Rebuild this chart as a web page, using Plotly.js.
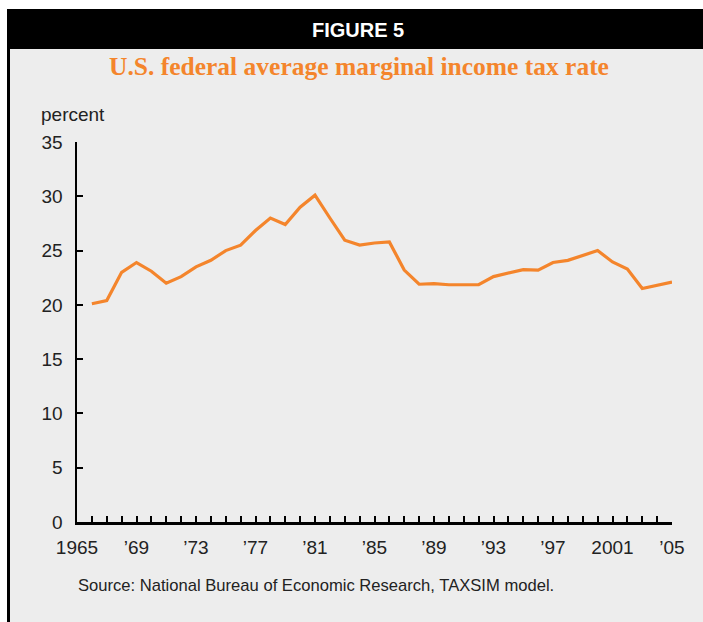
<!DOCTYPE html>
<html>
<head>
<meta charset="utf-8">
<script src="https://cdn.plot.ly/plotly-3.0.1.min.js"></script>
<style>html,body{margin:0;padding:0;background:#fff;}#chart{width:703px;height:622px;}</style>
</head>
<body>
<div id="chart"></div>
<script>
const years = [1966,1967,1968,1969,1970,1971,1972,1973,1974,1975,1976,1977,1978,1979,1980,1981,1982,1983,1984,1985,1986,1987,1988,1989,1990,1991,1992,1993,1994,1995,1996,1997,1998,1999,2000,2001,2002,2003,2004,2005];
const rates = [20.1,20.4,23.0,23.9,23.1,22.0,22.6,23.5,24.1,25.0,25.5,26.85,28.0,27.4,29.0,30.1,28.0,25.95,25.5,25.7,25.8,23.2,21.9,21.95,21.85,21.85,21.85,22.6,22.9,23.25,23.2,23.9,24.1,24.55,25.0,23.95,23.3,21.5,21.8,22.1];
const tickYears = [];
for (let y = 1965; y <= 2005; y++) tickYears.push(y);
const labelMap = {1965:'1965',1969:'\u201969',1973:'\u201973',1977:'\u201977',1981:'\u201981',1985:'\u201985',1989:'\u201989',1993:'\u201993',1997:'\u201997',2001:'2001',2005:'\u201905'};
const tickText = tickYears.map(y => labelMap[y] || '');
const yTicks = [0,5,10,15,20,25,30,35];

const W = 703, H = 622;
const L = 77, R = 672, T = 142, B = 522;
const px = x => (x - L) / (R - L);
const py = y => (B - y) / (B - T);

const orange = '#f4852c';
const font = 'Liberation Sans, Arial, sans-serif';

Plotly.newPlot('chart', [{
  x: years, y: rates, type: 'scatter', mode: 'lines',
  line: {color: orange, width: 3.2}, hoverinfo: 'skip'
}], {
  width: W, height: H,
  margin: {l: L, r: W - R, t: T, b: H - B, pad: 0},
  paper_bgcolor: '#ffffff',
  plot_bgcolor: 'rgba(0,0,0,0)',
  showlegend: false,
  xaxis: {
    range: [1965, 2005], tickmode: 'array', tickvals: tickYears, ticktext: tickText,
    showline: true, linecolor: '#000', linewidth: 2.5, ticks: 'inside', ticklen: 6, tickwidth: 2, tickcolor: '#000',
    showgrid: false, zeroline: false, fixedrange: true, ticklabelstandoff: 7,
    tickfont: {family: font, size: 19, color: '#222'}
  },
  yaxis: {
    range: [0, 35], tickmode: 'array', tickvals: yTicks,
    showline: true, linecolor: '#000', linewidth: 2.5, ticks: 'inside', ticklen: 6, tickwidth: 2, tickcolor: '#000',
    showgrid: false, zeroline: false, fixedrange: true, ticklabelstandoff: 8,
    tickfont: {family: font, size: 19, color: '#222'}
  },
  shapes: [
    {type: 'rect', xref: 'paper', yref: 'paper', x0: px(7), x1: px(703), y0: py(9), y1: py(622), fillcolor: '#ededed', line: {width: 0}, layer: 'below'},
    {type: 'rect', xref: 'paper', yref: 'paper', x0: px(7), x1: px(703), y0: py(9), y1: py(49), fillcolor: '#000', line: {width: 0}, layer: 'below'},
    {type: 'rect', xref: 'paper', yref: 'paper', x0: px(7), x1: px(10), y0: py(9), y1: py(622), fillcolor: '#000', line: {width: 0}, layer: 'below'}
  ],
  annotations: [
    {text: '<b>FIGURE 5</b>', xref: 'paper', yref: 'paper', x: px(358), y: py(30), xanchor: 'center', yanchor: 'middle', showarrow: false,
     font: {family: 'Liberation Sans Narrow, Liberation Sans, Arial, sans-serif', size: 20, color: '#fff'}},
    {text: '<b>U.S. federal average marginal income tax rate</b>', xref: 'paper', yref: 'paper', x: px(359), y: py(67), xanchor: 'center', yanchor: 'middle', showarrow: false,
     font: {family: 'Liberation Serif, Times New Roman, serif', size: 25.5, color: orange}},
    {text: 'percent', xref: 'paper', yref: 'paper', x: px(39), y: py(114), xanchor: 'left', yanchor: 'middle', showarrow: false,
     font: {family: font, size: 19, color: '#222'}},
    {text: 'Source: National Bureau of Economic Research, TAXSIM model.', xref: 'paper', yref: 'paper', x: px(76), y: py(585), xanchor: 'left', yanchor: 'middle', showarrow: false,
     font: {family: font, size: 16.6, color: '#222'}}
  ]
}, {displayModeBar: false, staticPlot: true});
</script>
</body>
</html>
